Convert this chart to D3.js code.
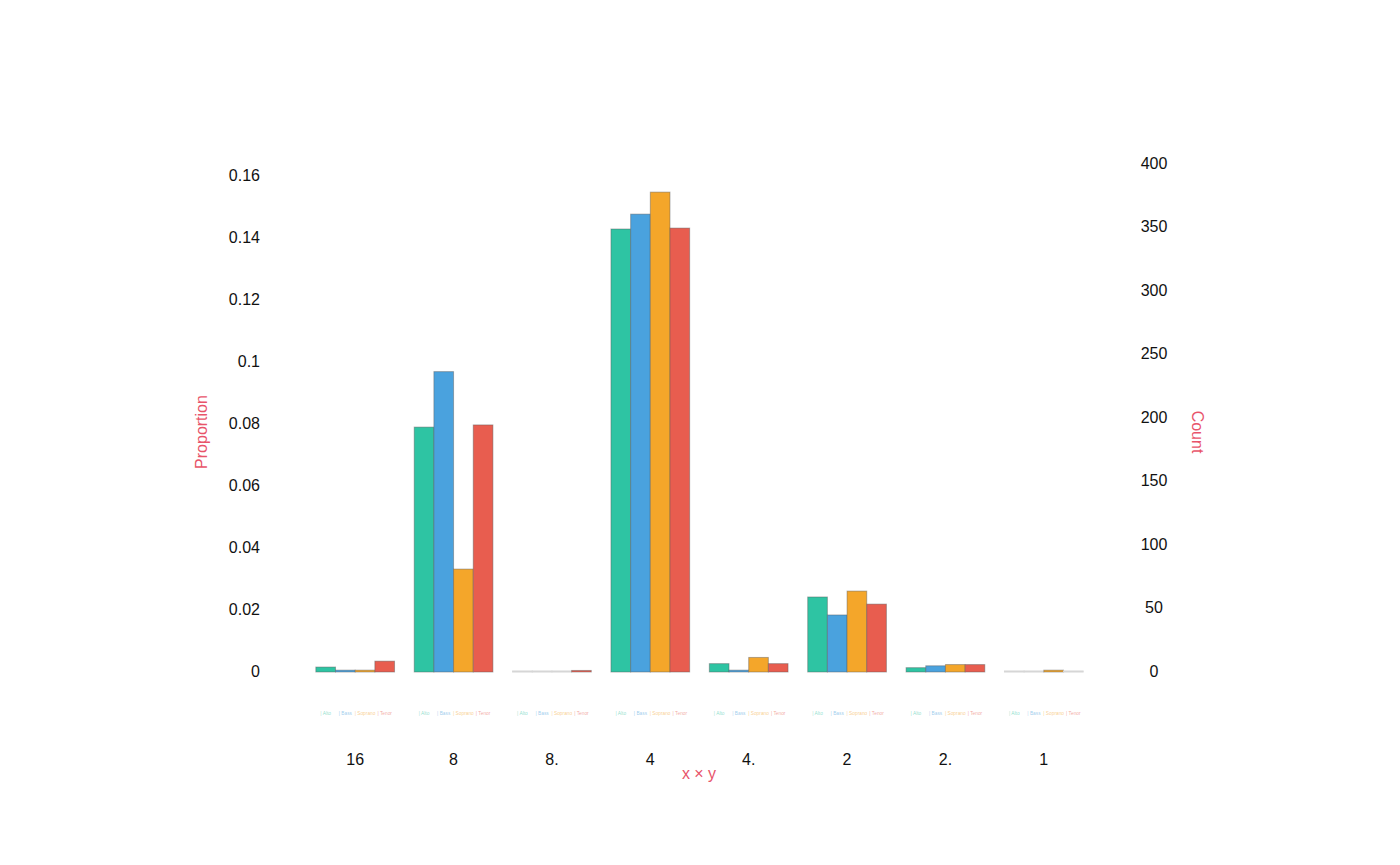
<!DOCTYPE html>
<html>
<head>
<meta charset="utf-8">
<script src="https://cdn.jsdelivr.net/npm/d3@7/dist/d3.min.js"></script>
<style>
  body { margin: 0; background: #fff; }
  text { font-family: "Liberation Sans", Arial, sans-serif; }
</style>
</head>
<body>
<div id="chart"></div>
<script>
// categories on the x axis
const categories = ["16", "8", "8.", "4", "4.", "2", "2.", "1"];
const voices = ["Alto", "Bass", "Soprano", "Tenor"];

// proportion per voice, one value per category
const alto    = [0.0016, 0.0790, 0, 0.1429, 0.0027, 0.0242, 0.0014, 0];
const bass    = [0.0006, 0.0969, 0, 0.1477, 0.0006, 0.0184, 0.0020, 0];
const soprano = [0.0006, 0.0332, 0, 0.1548, 0.0047, 0.0261, 0.0024, 0.0006];
const tenor   = [0.0035, 0.0797, 0.0005, 0.1432, 0.0027, 0.0219, 0.0024, 0];

const leftTicks = [0, 0.02, 0.04, 0.06, 0.08, 0.1, 0.12, 0.14, 0.16];
const rightTicks = [0, 50, 100, 150, 200, 250, 300, 350, 400];

const colors = ["#2ec4a3", "#4aa2de", "#f4a62a", "#e85d4f"];
const accent = "#e8546a";

const series = [alto, bass, soprano, tenor];
const rows = categories.map((c, i) => ({ cat: c, vals: series.map(s => s[i]) }));

const W = 1400, H = 865;
const svg = d3.select("#chart").append("svg")
    .attr("width", W)
    .attr("height", H);

const x = d3.scaleBand().domain(categories).range([306, 1093]).paddingInner(0.2).paddingOuter(0.1);
const xs = d3.scaleBand().domain(voices).range([0, x.bandwidth()]);
const y = d3.scaleLinear().domain([0, 0.16]).range([672, 176]);
const y2 = d3.scaleLinear().domain([0, 400]).range([672, 164]);

// left axis labels
svg.append("g").selectAll("text")
    .data(leftTicks)
    .enter().append("text")
    .attr("x", 260)
    .attr("y", d => y(d) - 1)
    .attr("dy", "0.35em")
    .attr("text-anchor", "end")
    .attr("font-size", 16)
    .attr("fill", "#111")
    .text(d => d3.format("~g")(d));

// right axis labels
svg.append("g").selectAll("text")
    .data(rightTicks)
    .enter().append("text")
    .attr("x", 1154)
    .attr("y", d => y2(d) - 1)
    .attr("dy", "0.35em")
    .attr("text-anchor", "middle")
    .attr("font-size", 16)
    .attr("fill", "#111")
    .text(d => d);

// bars
const group = svg.append("g").selectAll("g")
    .data(rows)
    .enter().append("g")
    .attr("transform", d => `translate(${x(d.cat)},0)`);

group.selectAll("rect")
    .data(d => d.vals.map((v, j) => ({ v, voice: voices[j], j })))
    .enter().append("rect")
    .attr("x", d => xs(d.voice))
    .attr("width", xs.bandwidth())
    .attr("y", d => d.v === 0 ? y(0) - 1 : y(d.v))
    .attr("height", d => d.v === 0 ? 1 : y(0) - y(d.v))
    .attr("fill", d => d.v === 0 ? "#dcdcdc" : colors[d.j])
    .attr("stroke", d => d.v === 0 ? "#d6d6d6" : "rgba(90,90,90,0.45)")
    .attr("stroke-width", 1);

// small voice labels under each group
group.selectAll("text.voice")
    .data(voices.map((v, j) => ({ voice: v, j })))
    .enter().append("text")
    .attr("class", "voice")
    .attr("x", d => xs(d.voice) + xs.bandwidth() / 2)
    .attr("y", 715)
    .attr("text-anchor", "middle")
    .attr("font-size", 4.8)
    .attr("fill", d => colors[d.j])
    .attr("fill-opacity", 0.55)
    .text(d => "| " + d.voice);

// category labels
svg.append("g").selectAll("text")
    .data(categories)
    .enter().append("text")
    .attr("x", d => x(d) + x.bandwidth() / 2)
    .attr("y", 759)
    .attr("dy", "0.35em")
    .attr("text-anchor", "middle")
    .attr("font-size", 16)
    .attr("fill", "#111")
    .text(d => d);

// axis titles
svg.append("text")
    .attr("transform", "translate(207,432) rotate(-90)")
    .attr("text-anchor", "middle")
    .attr("font-size", 16)
    .attr("fill", accent)
    .text("Proportion");

svg.append("text")
    .attr("transform", "translate(1192,432) rotate(90)")
    .attr("text-anchor", "middle")
    .attr("font-size", 16)
    .attr("fill", accent)
    .text("Count");

svg.append("text")
    .attr("x", 699)
    .attr("y", 779)
    .attr("text-anchor", "middle")
    .attr("font-size", 16)
    .attr("fill", accent)
    .text("x × y");
</script>
</body>
</html>
